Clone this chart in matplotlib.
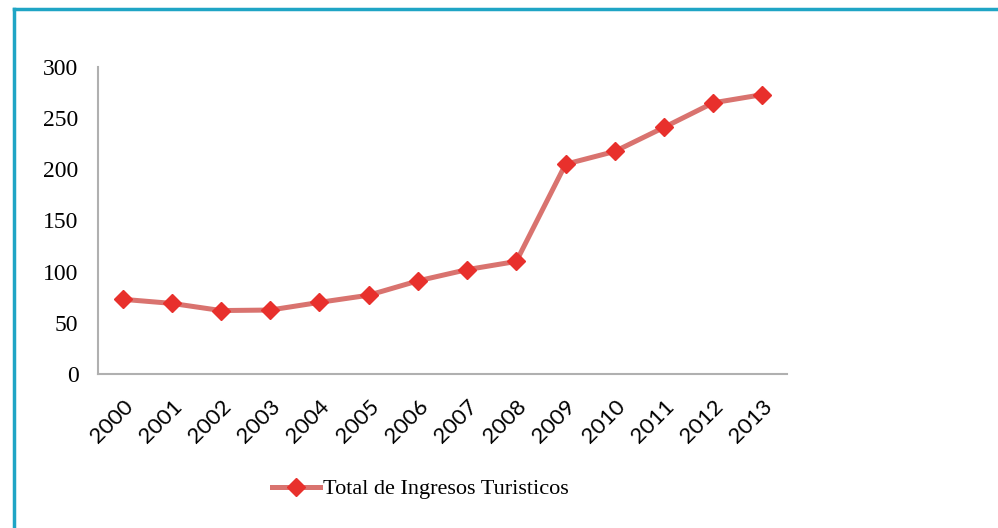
import matplotlib.pyplot as plt
from matplotlib.lines import Line2D

years = ['2000', '2001', '2002', '2003', '2004', '2005', '2006',
         '2007', '2008', '2009', '2010', '2011', '2012', '2013']
ingresos = [73, 69, 62, 62.5, 70, 77, 91, 102, 110, 205, 217.5, 241, 265, 273]
label = 'Total de Ingresos Turisticos'

plt.rcParams['font.family'] = ['Liberation Serif', 'DejaVu Serif']

fig = plt.figure(figsize=(9.98, 5.28), dpi=100)
W, H = 998, 528
ax = fig.add_axes([98 / W, 1 - 374 / H, (787 - 98) / W, (374 - 67) / H])

x = range(len(years))
ax.plot(x, ingresos, color='#d9736f', lw=3.6, marker='D', ms=9,
        mfc='#e8302c', mec='#e8302c', label=label)

ax.set_xlim(-0.5, len(years) - 0.5)
ax.set_ylim(0, 300)
ax.set_yticks([0, 50, 100, 150, 200, 250, 300])
ax.set_xticks(list(x))
ax.set_xticklabels(years, rotation=45, ha='right', rotation_mode='anchor',
                   family=['Lato', 'DejaVu Sans'], fontsize=16)
ax.tick_params(axis='y', length=0, labelsize=17, pad=14)
ax.tick_params(axis='x', length=0, pad=16)
for s in ['top', 'right']:
    ax.spines[s].set_visible(False)
for s in ['left', 'bottom']:
    ax.spines[s].set_color('#b0b0b0')
    ax.spines[s].set_linewidth(1.5)

fig.legend(loc='center', bbox_to_anchor=(420 / W, 1 - 489 / H), frameon=False,
           fontsize=16, handlelength=2.2, handletextpad=0.1)

# teal frame
fig.add_artist(Line2D([14 / W, 1], [1 - 9 / H, 1 - 9 / H], color='#1fa5c5', lw=2.5,
                      transform=fig.transFigure))
fig.add_artist(Line2D([14 / W, 14 / W], [0, 1 - 9 / H], color='#1fa5c5', lw=2.5,
                      transform=fig.transFigure))

fig.savefig('out.png', dpi=100)
